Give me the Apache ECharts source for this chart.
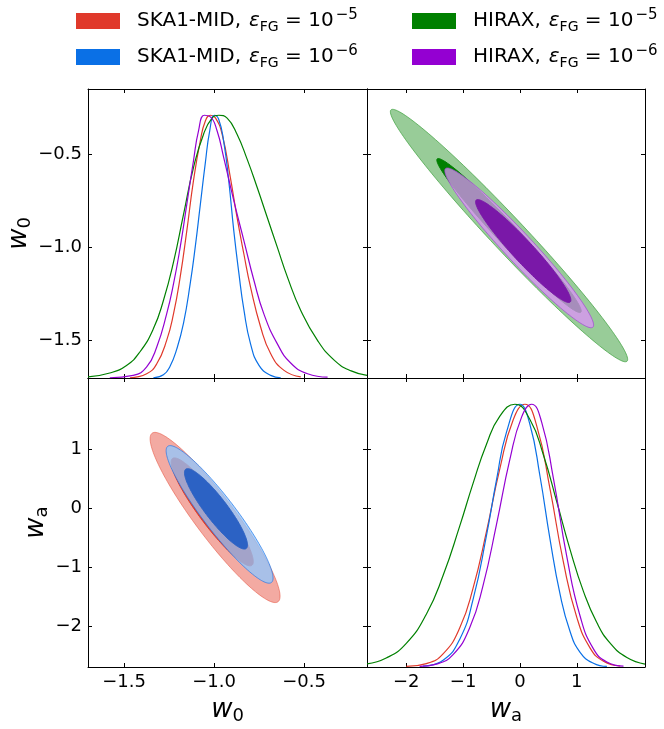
<!DOCTYPE html>
<html>
<head>
<meta charset="utf-8">
<script src="https://cdn.jsdelivr.net/npm/echarts@6/dist/echarts.min.js"></script>
<style>
  html, body { margin: 0; padding: 0; background: #fff; }
  #chart { width: 664px; height: 729px; }
</style>
</head>
<body>
<div id="chart"></div>
<script>
// Parameter ranges and tick positions
const w0Range = [-1.70, -0.15];
const waRange = [-2.69, 2.2];
const densityRange = [0, 1.1];
const w0Ticks = [-1.5, -1.0, -0.5];
const w0TickLabels = ['−1.5', '−1.0', '−0.5'];
const waTicks = [-2, -1, 0, 1];
const waTickLabels = ['−2', '−1', '0', '1'];

// Experiments and foreground levels
const surveys = ['SKA1-MID', 'SKA1-MID', 'HIRAX', 'HIRAX'];
const fgExponents = ['−5', '−6', '−5', '−6'];
const seriesNames = [
  'SKA1-MID, εFG = 10^-5',
  'SKA1-MID, εFG = 10^-6',
  'HIRAX, εFG = 10^-5',
  'HIRAX, εFG = 10^-6'
];

// 1D marginals of w0: [w0, normalised density]
const w0_ska5 = [[-1.467,0.001],[-1.374,0.016],[-1.318,0.054],[-1.263,0.143],[-1.225,0.244],[-1.188,0.384],[-1.151,0.561],[-1.114,0.751],[-1.076,0.903],[-1.048,0.978],[-1.020,1.0],[-0.993,0.991],[-0.955,0.928],[-0.909,0.763],[-0.872,0.611],[-0.834,0.472],[-0.797,0.346],[-0.741,0.194],[-0.685,0.092],[-0.611,0.029],[-0.518,0.004]];
const w0_ska6 = [[-1.337,0.001],[-1.281,0.012],[-1.244,0.045],[-1.207,0.11],[-1.169,0.21],[-1.132,0.36],[-1.104,0.5],[-1.076,0.66],[-1.048,0.82],[-1.024,0.94],[-0.998,1.0],[-0.974,0.985],[-0.946,0.90],[-0.918,0.75],[-0.890,0.56],[-0.862,0.40],[-0.834,0.26],[-0.797,0.13],[-0.750,0.048],[-0.685,0.01],[-0.629,0.001]];
const w0_hirax5 = [[-1.700,0.004],[-1.579,0.019],[-1.486,0.048],[-1.412,0.099],[-1.337,0.187],[-1.281,0.295],[-1.225,0.441],[-1.169,0.624],[-1.114,0.801],[-1.058,0.928],[-1.011,0.989],[-0.974,1.0],[-0.927,0.989],[-0.872,0.928],[-0.816,0.833],[-0.760,0.725],[-0.704,0.611],[-0.648,0.497],[-0.592,0.384],[-0.518,0.257],[-0.425,0.143],[-0.331,0.067],[-0.238,0.027],[-0.150,0.010]];
const w0_hirax6 = [[-1.579,0.001],[-1.449,0.010],[-1.374,0.042],[-1.318,0.118],[-1.263,0.244],[-1.225,0.358],[-1.188,0.497],[-1.151,0.662],[-1.114,0.827],[-1.086,0.941],[-1.054,1.0],[-1.020,0.994],[-0.983,0.941],[-0.946,0.839],[-0.890,0.675],[-0.834,0.523],[-0.778,0.371],[-0.723,0.244],[-0.648,0.130],[-0.574,0.057],[-0.480,0.016],[-0.369,0.003]];

// 1D marginals of wa: [wa, normalised density]
const wa_ska5 = [[-1.999,0.002],[-1.646,0.013],[-1.352,0.050],[-1.058,0.149],[-0.823,0.301],[-0.588,0.516],[-0.353,0.755],[-0.118,0.941],[0.088,1.0],[0.294,0.919],[0.529,0.678],[0.764,0.400],[0.999,0.190],[1.235,0.072],[1.470,0.022],[1.764,0.004]];
const wa_ska6 = [[-1.705,0.003],[-1.352,0.026],[-1.058,0.106],[-0.823,0.258],[-0.588,0.501],[-0.412,0.712],[-0.235,0.895],[0,1.0],[0.176,0.923],[0.353,0.726],[0.529,0.487],[0.705,0.278],[0.882,0.135],[1.058,0.056],[1.293,0.014],[1.529,0.002]];
const wa_hirax5 = [[-2.69,0.012],[-2.352,0.034],[-1.999,0.090],[-1.646,0.201],[-1.352,0.348],[-1.058,0.537],[-0.823,0.700],[-0.588,0.848],[-0.353,0.955],[-0.088,1.0],[0.176,0.942],[0.412,0.808],[0.647,0.630],[0.882,0.447],[1.117,0.288],[1.352,0.169],[1.587,0.091],[1.881,0.036],[2.2,0.011]];
const wa_hirax6 = [[-1.764,0.002],[-1.470,0.011],[-1.176,0.047],[-0.882,0.150],[-0.647,0.312],[-0.412,0.543],[-0.176,0.791],[0.029,0.951],[0.206,1.0],[0.382,0.932],[0.588,0.719],[0.823,0.422],[1.058,0.194],[1.293,0.069],[1.529,0.019],[1.822,0.003]];

// 2D confidence regions, 95% then 68%:
// [centre x, centre y, half-extent in x, half-extent in y, correlation]
const contour_ska5 = [[-0.994,-0.16,0.361,1.44,-0.925],[-1.010,-0.065,0.228,0.913,-0.92]];   // x = w0, y = wa
const contour_ska6 = [[-0.969,-0.108,0.297,1.164,-0.925],[-0.989,-0.014,0.175,0.68,-0.90]];   // x = w0, y = wa
const contour_hirax5 = [[-0.192,-0.936,2.087,0.677,-0.981],[-0.192,-0.936,1.27,0.413,-0.98]]; // x = wa, y = w0
const contour_hirax6 = [[-0.013,-1.002,1.309,0.4285,-0.966],[0.058,-1.019,0.838,0.276,-0.955]]; // x = wa, y = w0

// Colours
const lineColors = ['#e0392b', '#0a70e6', '#008000', '#9400d2'];
const contourStyles = {
  ska5: [{ fill: '#f3aaa2', stroke: 'rgba(230,80,60,0.55)' }, { fill: '#e03a28', stroke: '#e03a28' }],
  ska6: [{ fill: 'rgba(143,199,255,0.75)', stroke: 'rgba(40,120,230,0.7)' }, { fill: '#2c62c4', stroke: '#2c62c4' }],
  hirax5: [{ fill: '#98cc98', stroke: 'rgba(60,160,60,0.7)' }, { fill: '#008000', stroke: '#008000' }],
  hirax6: [{ fill: 'rgba(222,145,250,0.75)', stroke: 'rgba(160,70,210,0.7)' }, { fill: '#7a18a8', stroke: '#7a18a8' }]
};

const FONT = 'DejaVu Sans';

function fmtTick(values, labels) {
  return function (v) {
    for (let i = 0; i < values.length; i++) {
      if (Math.abs(values[i] - v) < 1e-9) return labels[i];
    }
    return '';
  };
}

// Filled ellipse drawn through the cartesian coordinate system
function ellipseRenderer(styles) {
  return function (params, api) {
    const cx = api.value(0), cy = api.value(1);
    const hx = api.value(2), hy = api.value(3), r = api.value(4);
    const q = Math.sqrt(1 - r * r);
    const pts = [];
    const n = 160;
    for (let i = 0; i < n; i++) {
      const t = 2 * Math.PI * i / n;
      pts.push(api.coord([cx + hx * Math.cos(t), cy + hy * (r * Math.cos(t) + q * Math.sin(t))]));
    }
    const s = styles[params.dataIndex];
    return {
      type: 'polygon',
      shape: { points: pts },
      style: { fill: s.fill, stroke: s.stroke, lineWidth: 1 }
    };
  };
}

const grids = [
  { left: 88, top: 89, width: 279, height: 289 },   // w0 marginal
  { left: 367, top: 89, width: 278, height: 289 },  // wa vs w0 (HIRAX)
  { left: 88, top: 378, width: 279, height: 289 },  // w0 vs wa (SKA1-MID)
  { left: 367, top: 378, width: 278, height: 289 }  // wa marginal
];

const axisLineStyle = { show: true, onZero: false, lineStyle: { color: '#000', width: 1 } };
const labelStyle = { color: '#000', fontFamily: FONT, fontSize: 18 };

function valueAxis(gridIndex, range, ticks, labels, position, showLabels, extra) {
  return Object.assign({
    type: 'value',
    gridIndex: gridIndex,
    position: position,
    min: range[0],
    max: range[1],
    axisLine: axisLineStyle,
    splitLine: { show: false },
    axisTick: { show: true, inside: true, length: 4, customValues: ticks, lineStyle: { color: '#000', width: 1 } },
    axisLabel: Object.assign({ show: showLabels, customValues: ticks, formatter: fmtTick(ticks, labels), margin: 6 }, labelStyle)
  }, extra || {});
}

const nameRich = {
  w: { fontFamily: FONT, fontStyle: 'italic', fontSize: 26, lineHeight: 30, color: '#000' },
  s: { fontFamily: FONT, fontSize: 18, lineHeight: 18, verticalAlign: 'bottom', color: '#000' }
};

const xAxes = [
  valueAxis(0, w0Range, w0Ticks, w0TickLabels, 'bottom', false),
  valueAxis(0, w0Range, w0Ticks, w0TickLabels, 'top', false),
  valueAxis(1, waRange, waTicks, waTickLabels, 'bottom', false),
  valueAxis(1, waRange, waTicks, waTickLabels, 'top', false),
  valueAxis(2, w0Range, w0Ticks, w0TickLabels, 'bottom', true, {
    name: '{w|w}{s|0}', nameLocation: 'middle', nameGap: 28, nameTextStyle: { rich: nameRich }
  }),
  valueAxis(2, w0Range, w0Ticks, w0TickLabels, 'top', false),
  valueAxis(3, waRange, waTicks, waTickLabels, 'bottom', true, {
    name: '{w|w}{s|a}', nameLocation: 'middle', nameGap: 28, nameTextStyle: { rich: nameRich }
  }),
  valueAxis(3, waRange, waTicks, waTickLabels, 'top', false)
];

const yAxes = [
  valueAxis(0, w0Range, w0Ticks, w0TickLabels, 'left', true, {
    name: '{w|w}{s|0}', nameLocation: 'middle', nameGap: 52, nameRotate: 90, nameTextStyle: { rich: nameRich }
  }),
  valueAxis(0, w0Range, w0Ticks, w0TickLabels, 'right', false),
  { type: 'value', gridIndex: 0, min: densityRange[0], max: densityRange[1], show: false },
  valueAxis(1, w0Range, w0Ticks, w0TickLabels, 'left', false),
  valueAxis(1, w0Range, w0Ticks, w0TickLabels, 'right', false),
  valueAxis(2, waRange, waTicks, waTickLabels, 'left', true, {
    name: '{w|w}{s|a}', nameLocation: 'middle', nameGap: 31, nameRotate: 90, nameTextStyle: { rich: nameRich }
  }),
  valueAxis(2, waRange, waTicks, waTickLabels, 'right', false),
  valueAxis(3, waRange, waTicks, waTickLabels, 'left', false),
  valueAxis(3, waRange, waTicks, waTickLabels, 'right', false),
  { type: 'value', gridIndex: 3, min: densityRange[0], max: densityRange[1], show: false }
];

function marginal(nameIdx, data, xIdx, yIdx) {
  return {
    type: 'line',
    name: seriesNames[nameIdx],
    xAxisIndex: xIdx,
    yAxisIndex: yIdx,
    data: data,
    showSymbol: false,
    smooth: 0.5,
    color: lineColors[nameIdx],
    lineStyle: { width: 1.2, color: lineColors[nameIdx] },
    clip: true,
    z: 3
  };
}

function contourSeries(data, styles, xIdx, yIdx) {
  return {
    type: 'custom',
    coordinateSystem: 'cartesian2d',
    xAxisIndex: xIdx,
    yAxisIndex: yIdx,
    data: data,
    renderItem: ellipseRenderer(styles),
    clip: true,
    z: 2
  };
}

const series = [
  marginal(0, w0_ska5, 0, 2),
  marginal(1, w0_ska6, 0, 2),
  marginal(2, w0_hirax5, 0, 2),
  marginal(3, w0_hirax6, 0, 2),
  contourSeries(contour_hirax5, contourStyles.hirax5, 2, 3),
  contourSeries(contour_hirax6, contourStyles.hirax6, 2, 3),
  contourSeries(contour_ska5, contourStyles.ska5, 4, 5),
  contourSeries(contour_ska6, contourStyles.ska6, 4, 5),
  marginal(0, wa_ska5, 6, 9),
  marginal(1, wa_ska6, 6, 9),
  marginal(2, wa_hirax5, 6, 9),
  marginal(3, wa_hirax6, 6, 9)
];

const legendRich = {
  g: { width: 12 },
  h: { width: 8 },
  k: { width: 2 },
  t: { fontFamily: FONT, fontSize: 20, lineHeight: 26, color: '#000' },
  e: { fontFamily: FONT, fontStyle: 'italic', fontSize: 20, lineHeight: 26, color: '#000' },
  f: { fontFamily: FONT, fontSize: 14, lineHeight: 14, verticalAlign: 'bottom', color: '#000' },
  p: { fontFamily: FONT, fontSize: 15, lineHeight: 15, verticalAlign: 'top', color: '#000' }
};

function legendText(name) {
  const i = seriesNames.indexOf(name);
  return '{g| }{t|' + surveys[i] + ',}{h| }{e|ε}{f|FG}{t| = 10}{k| }{p|' + fgExponents[i] + '}';
}

function legendBlock(names, left) {
  return {
    data: names,
    left: left,
    top: 3,
    orient: 'vertical',
    icon: 'rect',
    itemWidth: 44,
    itemHeight: 16,
    itemGap: 10,
    selectedMode: false,
    formatter: legendText,
    textStyle: { rich: legendRich }
  };
}

const chart = echarts.init(document.getElementById('chart'), null, { renderer: 'canvas' });
chart.setOption({
  animation: false,
  backgroundColor: '#fff',
  legend: [
    legendBlock([seriesNames[0], seriesNames[1]], 71),
    legendBlock([seriesNames[2], seriesNames[3]], 407)
  ],
  grid: grids,
  xAxis: xAxes,
  yAxis: yAxes,
  series: series
});
</script>
</body>
</html>
